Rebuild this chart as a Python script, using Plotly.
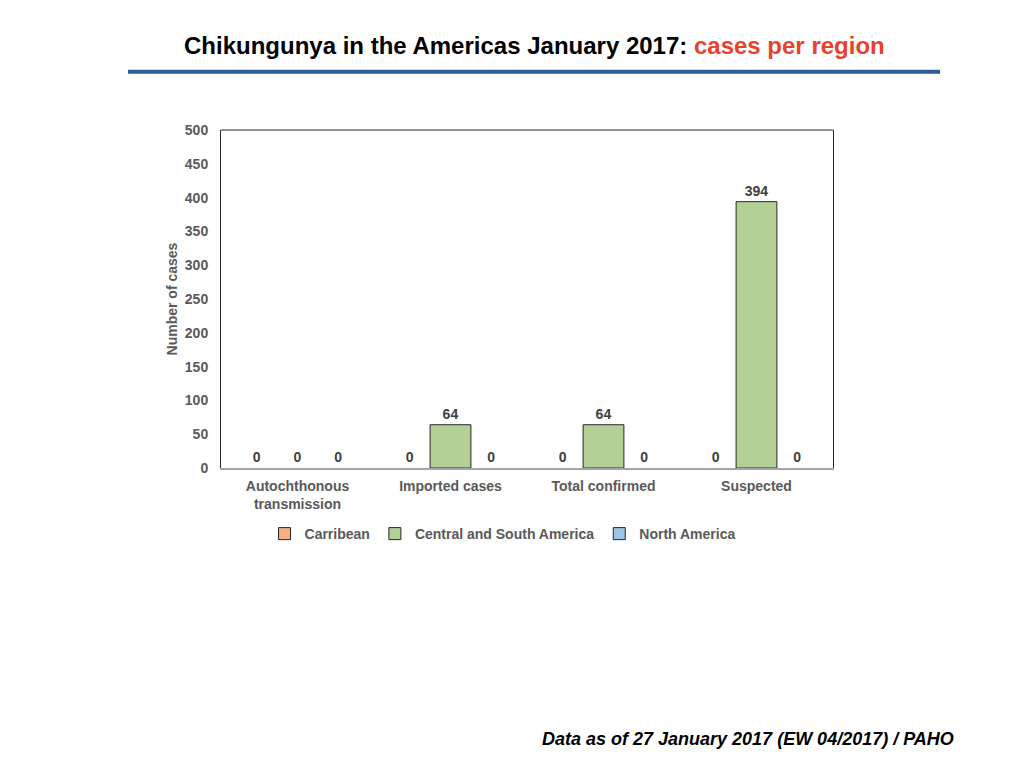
import plotly.graph_objects as go

categories = ["Autochthonous<br>transmission", "Imported cases", "Total confirmed", "Suspected"]
carribean = [0, 0, 0, 0]
central_south = [0, 64, 64, 394]
north_america = [0, 0, 0, 0]

series = [
    ("Carribean", carribean, "#f4b183"),
    ("Central and South America", central_south, "#b3d197"),
    ("North America", north_america, "#9dc3e6"),
]

FONT = "Liberation Sans, Arial, sans-serif"
GRAY = "#595959"

fig = go.Figure()
for i, (name, vals, color) in enumerate(series):
    # zero-height bars get no outline, like the original
    fig.add_trace(go.Bar(
        x=categories, y=vals, name=name, showlegend=False, offsetgroup=str(i),
        marker=dict(color=color,
                    line=dict(color="#262626", width=[1 if v else 0 for v in vals])),
        text=vals, textposition="outside", cliponaxis=False,
        textfont=dict(family=FONT, size=14, color="#404040", weight="bold"),
    ))
# legend entries with outlined squares (share the slots of the real bars)
for i, (name, vals, color) in enumerate(series):
    fig.add_trace(go.Bar(
        x=[None], y=[None], name=name, offsetgroup=str(i),
        marker=dict(color=color, line=dict(color="#262626", width=1)),
    ))

fig.update_layout(
    width=1024, height=768,
    paper_bgcolor="white", plot_bgcolor="white",
    margin=dict(l=213, r=199, t=122, b=308, autoexpand=False),
    barmode="group", bargap=0.2, bargroupgap=0,
    font=dict(family=FONT, size=13, color=GRAY),
    showlegend=True,
    legend=dict(orientation="h", x=0.46, xanchor="center", y=-0.148, yanchor="top",
                font=dict(family=FONT, size=14, color=GRAY, weight="bold"),
                itemwidth=30, tracegroupgap=0),
    xaxis=dict(showline=True, linecolor="#a6a6a6", linewidth=1.5, ticks="",
               ticklabelstandoff=4,
               tickfont=dict(family=FONT, size=14, color=GRAY, weight="bold")),
    yaxis=dict(range=[0, 500], dtick=50, showgrid=False, zeroline=False,
               showline=True, linecolor="#262626", linewidth=1, mirror=True, ticks="",
               ticklabelstandoff=9,
               tickfont=dict(family=FONT, size=14, color=GRAY, weight="bold"),
               title=dict(text="Number of cases", standoff=3,
                          font=dict(family=FONT, size=14, color=GRAY, weight="bold"))),
)

# top frame line (x axis line is gray at the bottom)
fig.add_shape(type="line", xref="paper", yref="paper", x0=0, x1=1, y0=1, y1=1,
              line=dict(color="#262626", width=1))
# blue rule under the title
fig.add_shape(type="line", xref="paper", yref="paper", x0=-0.152, x1=1.175, y0=1.172, y1=1.172,
              line=dict(color="#2e5a97", width=4))

fig.add_annotation(
    xref="paper", yref="paper", x=0.513, y=1.251, xanchor="center", yanchor="middle",
    showarrow=False,
    text="Chikungunya in the Americas January 2017: <span style='color:#e8412c'>cases per region</span>",
    font=dict(family=FONT, size=24, color="black", weight="bold"),
)
fig.add_annotation(
    xref="paper", yref="paper", x=1.201, y=-0.802, xanchor="right", yanchor="middle",
    showarrow=False,
    text="<i>Data as of 27 January 2017 (EW 04/2017) / PAHO</i>",
    font=dict(family=FONT, size=18, color="black", weight="bold"),
)

fig.write_html("out.html")
